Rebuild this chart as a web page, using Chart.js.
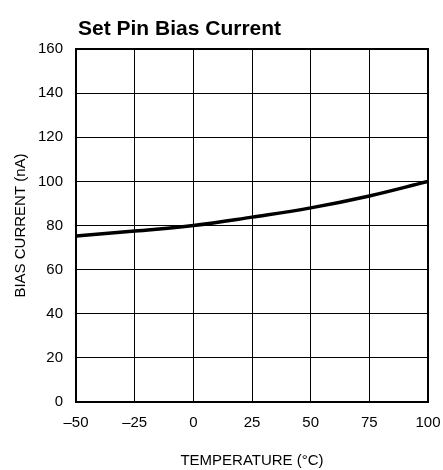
<!DOCTYPE html>
<html>
<head>
<meta charset="utf-8">
<script src="https://cdn.jsdelivr.net/npm/chart.js@4.4.1/dist/chart.umd.min.js"></script>
<style>
  html, body { margin: 0; padding: 0; background: #fff; }
  #wrap { width: 443px; height: 470px; }
</style>
</head>
<body>
<div id="wrap"><canvas id="biasChart" width="443" height="470"></canvas></div>
<script>
// Data
const temps = [-50, -25, 0, 25, 50, 75, 100];
const biasCurrent = [75.2, 77.5, 80, 83.8, 88, 93.4, 100];
const xTicks = [-50, -25, 0, 25, 50, 75, 100];
const yTicks = [0, 20, 40, 60, 80, 100, 120, 140, 160];

const FONT = '"Liberation Sans Narrow", "Liberation Sans", sans-serif';

// draws the bold title flush with the plot's left edge
const titlePlugin = {
    id: 'leftTitle',
    afterDraw(chart) {
        const c = chart.ctx;
        c.save();
        c.font = 'bold 21px ' + FONT;
        c.fillStyle = '#000';
        c.textBaseline = 'alphabetic';
        c.fillText('Set Pin Bias Current', chart.chartArea.left + 2, 35);
        c.restore();
    }
};

// frame around the plot area
const framePlugin = {
    id: 'frame',
    afterDatasetsDraw(chart) {
        const a = chart.chartArea;
        const c = chart.ctx;
        c.save();
        c.strokeStyle = '#000';
        c.lineWidth = 2;
        c.strokeRect(a.left, a.top, a.right - a.left, a.bottom - a.top);
        c.restore();
    }
};

const ctx = document.getElementById('biasChart').getContext('2d');
new Chart(ctx, {
    type: 'line',
    data: {
        datasets: [{
            data: temps.map((t, i) => ({ x: t, y: biasCurrent[i] })),
            borderColor: '#000',
            borderWidth: 3.5,
            pointRadius: 0,
            tension: 0.4,
            fill: false
        }]
    },
    options: {
        responsive: false,
        animation: false,
        layout: { padding: { left: 0, right: 15, top: 49, bottom: 0 } },
        plugins: { legend: { display: false }, tooltip: { enabled: false } },
        scales: {
            x: {
                type: 'linear',
                min: -50, max: 100,
                afterBuildTicks: s => { s.ticks = xTicks.map(v => ({ value: v })); },
                afterFit: s => { s.height = 68; s.paddingLeft = 0; s.paddingRight = 0; },
                grid: { color: '#000', lineWidth: 1, drawTicks: false },
                border: { display: false },
                ticks: {
                    color: '#000',
                    padding: 12,
                    font: { family: FONT, size: 15 },
                    callback: v => String(v).replace('-', '\u2013')
                },
                title: {
                    display: true,
                    text: 'TEMPERATURE (\u00B0C)',
                    color: '#000',
                    font: { family: FONT, size: 15 },
                    padding: { top: 14, bottom: 0 }
                }
            },
            y: {
                min: 0, max: 160,
                afterBuildTicks: s => { s.ticks = yTicks.map(v => ({ value: v })); },
                afterFit: s => { s.width = 76; s.paddingTop = 0; s.paddingBottom = 0; },
                grid: { color: '#000', lineWidth: 1, drawTicks: false },
                border: { display: false },
                ticks: {
                    color: '#000',
                    padding: 13,
                    font: { family: FONT, size: 15 }
                },
                title: {
                    display: true,
                    text: 'BIAS CURRENT (nA)',
                    color: '#000',
                    font: { family: FONT, size: 15 },
                    padding: { top: 12, bottom: 0 }
                }
            }
        }
    },
    plugins: [titlePlugin, framePlugin]
});
</script>
</body>
</html>
